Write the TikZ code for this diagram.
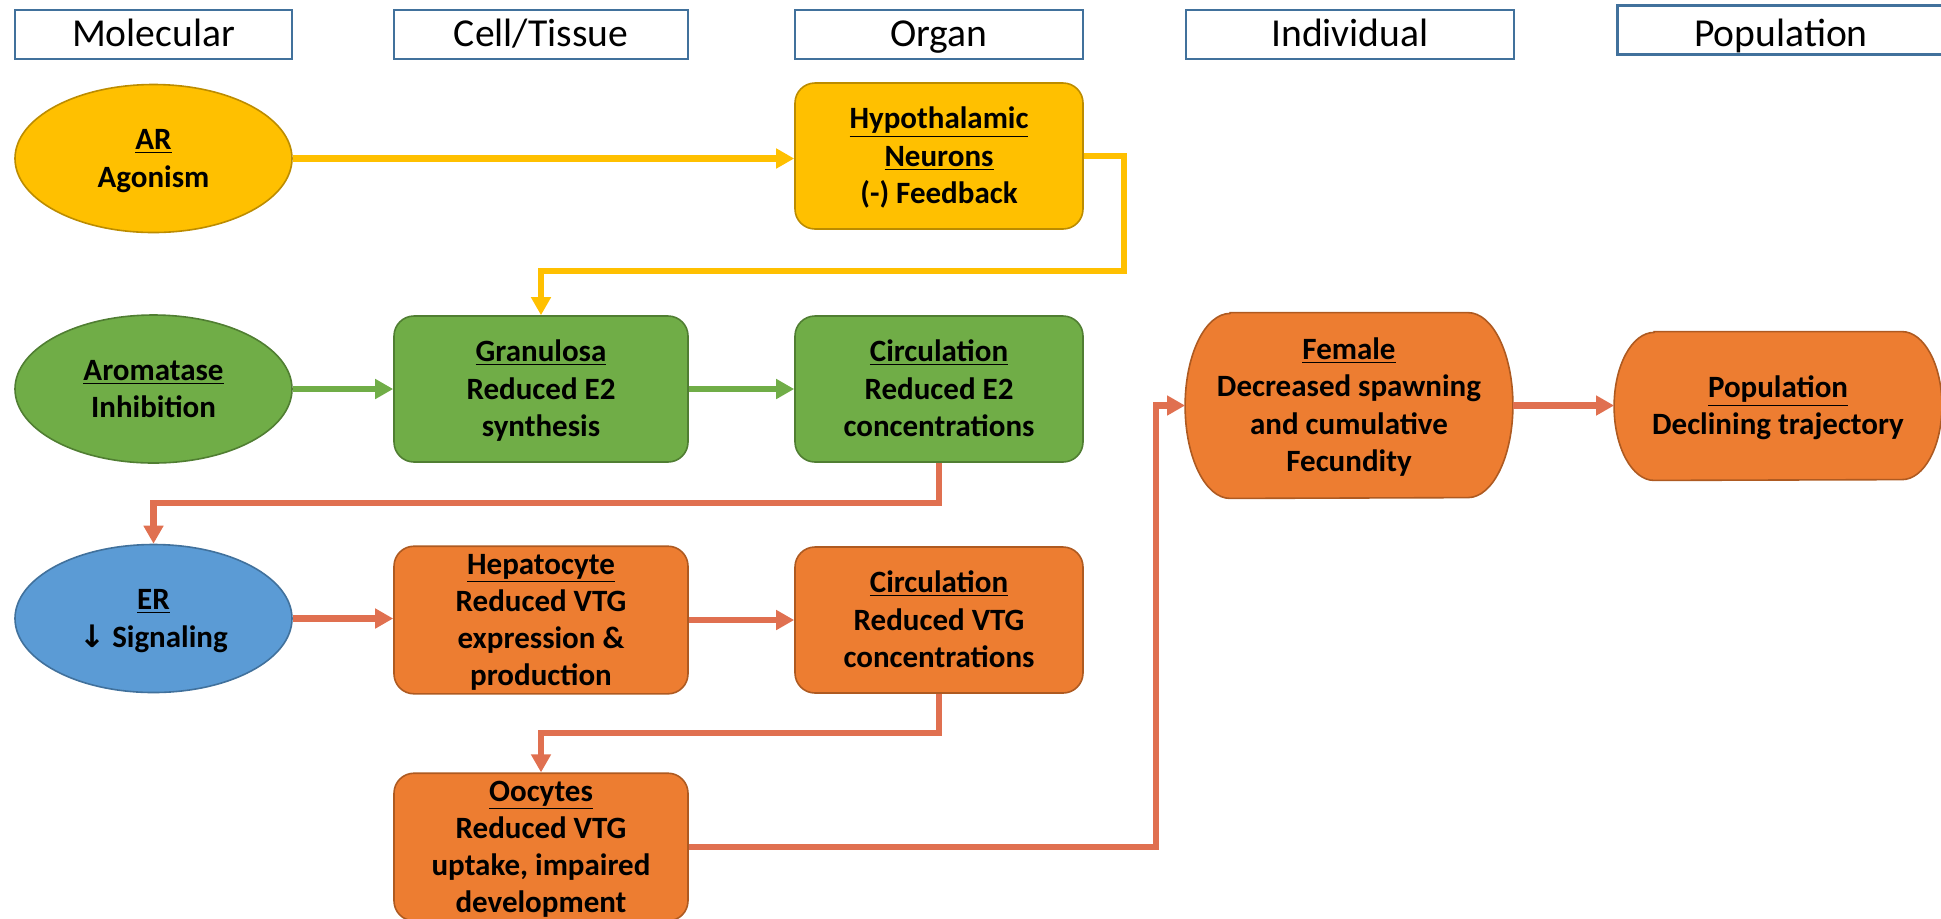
\documentclass[tikz,border=0pt]{standalone}
\usepackage{fontspec}
\setmainfont{Carlito}
\newfontfamily\symfont{DejaVu Sans}
\usetikzlibrary{shapes.geometric,arrows.meta,backgrounds}
\definecolor{ylw}{HTML}{FFC000}
\definecolor{ylwb}{HTML}{BC8C00}
\definecolor{grn}{HTML}{70AD47}
\definecolor{grnb}{HTML}{507E32}
\definecolor{blu}{HTML}{5B9BD5}
\definecolor{blub}{HTML}{41719C}
\definecolor{org}{HTML}{ED7D31}
\definecolor{orgb}{HTML}{AE5A21}
\definecolor{conred}{RGB}{224,112,80}
\definecolor{hdrb}{HTML}{41719C}
\newcommand\myTop{\rule{0pt}{14pt}}
\newcommand\myBot{\rule[-4pt]{0pt}{4pt}}
\begin{document}
\begin{tikzpicture}[x=0.5pt,y=-0.5pt,
  hdr/.style={draw=hdrb, line width=1.2pt, fill=white, minimum height=24.5pt, inner sep=0pt,
    text height=14pt, text depth=2pt, font=\fontsize{19.8}{22}\selectfont},
  txt/.style={align=center, inner sep=0pt, font=\bfseries\fontsize{15.5}{18.6}\selectfont},
  ell/.style={txt, ellipse, minimum width=138.5pt, minimum height=74pt, line width=0.8pt},
  rbox/.style={txt, rectangle, rounded corners=10pt, minimum height=73pt, line width=0.8pt},
  cellw/.style={minimum width=147pt},
  organw/.style={minimum width=144pt},
  yel/.style={fill=ylw, draw=ylwb},
  gre/.style={fill=grn, draw=grnb},
  blue/.style={fill=blu, draw=blub},
  ora/.style={fill=org, draw=orgb},
  conn/.style={line width=3.2pt, -{Triangle[length=9pt,width=9.5pt]}}
]
\useasboundingbox (0,0) rectangle (1941,918);

% headers
\node[hdr, minimum width=138.5pt] (hmol) at (153.5,34.5) {Molecular};
\node[hdr, minimum width=147pt] (hcell) at (541,34.5) {Cell/Tissue};
\node[hdr, minimum width=144pt] (horg) at (939,34.5) {Organ};
\node[hdr, minimum width=164pt] (hind) at (1350,34.5) {Individual};
\node[hdr, minimum width=163.5pt, text height=17pt, text depth=0.5pt] (hpop) at (1781,30) {Population};

% molecular
\node[ell, yel] (ar) at (153.5,158.5) {\myTop\underline{AR}\\Agonism\myBot};
\node[ell, gre] (arom) at (153.5,389) {\myTop\underline{Aromatase}\\Inhibition\myBot};
\node[ell, blue] (er) at (153.5,618.5) {\myTop\underline{ER}\\{\symfont\bfseries ↓} Signaling\myBot};

% cell / organ boxes
\node[rbox, organw, yel] (hyp) at (939,156) {\myTop\underline{Hypothalamic}\\\underline{Neurons}\\(-) Feedback\myBot};
\node[rbox, cellw, gre] (gran) at (541,389) {\myTop\underline{Granulosa}\\Reduced E2\\synthesis\myBot};
\node[rbox, organw, gre] (ce2) at (939,389) {\myTop\underline{Circulation}\\Reduced E2\\concentrations\myBot};
\node[rbox, cellw, ora] (hep) at (541,620) {\myTop\underline{Hepatocyte}\\Reduced VTG\\expression \&\\production\myBot};
\node[rbox, organw, ora] (cv) at (939,620) {\myTop\underline{Circulation}\\Reduced VTG\\concentrations\myBot};
\node[rbox, cellw, ora] (ooc) at (541,847) {\myTop\underline{Oocytes}\\Reduced VTG\\uptake, impaired\\development\myBot};

% individual / population
\node[txt, minimum width=163.5pt, minimum height=92.5pt] (fem) at (1349,405.5)
  {\myTop\underline{Female}\\Decreased spawning\\and cumulative\\Fecundity\myBot};
\node[txt, minimum width=163.5pt, minimum height=74pt] (pop) at (1778,406)
  {\myTop\underline{Population}\\Declining trajectory\myBot};
\begin{scope}[on background layer]
\draw[ora, line width=0.8pt] ([xshift=22.5pt]fem.north west) -- ([xshift=-22.5pt]fem.north east)
  arc[start angle=90,end angle=-90,x radius=22.5pt,y radius=46.25pt]
  -- ([xshift=22.5pt]fem.south west)
  arc[start angle=270,end angle=90,x radius=22.5pt,y radius=46.25pt] -- cycle;
\draw[ora, line width=0.8pt] ([xshift=20pt]pop.north west) -- ([xshift=-20pt]pop.north east)
  arc[start angle=90,end angle=-90,x radius=20pt,y radius=37pt]
  -- ([xshift=20pt]pop.south west)
  arc[start angle=270,end angle=90,x radius=20pt,y radius=37pt] -- cycle;
\end{scope}

% connector bends
\coordinate (fbr) at (1124,271);
\coordinate (c2) at (939,503);
\coordinate (c3) at (939,733);
\coordinate (c4) at (1156,847);

% connectors
\draw[conn, ylw] (ar.east) -- (ar.east -| hyp.west);
\draw[conn, ylw] (hyp.east) -| (fbr) -| (gran.north);
\draw[conn, grn] (arom.east) -- (gran.west);
\draw[conn, grn] (gran.east) -- (ce2.west);
\draw[conn, conred] (ce2.south) -- (c2) -| (er.north);
\draw[conn, conred] (er.east) -- (er.east -| hep.west);
\draw[conn, conred] (hep.east) -- (cv.west);
\draw[conn, conred] (cv.south) -- (c3) -| (ooc.north);
\draw[conn, conred] (ooc.east) -- (c4) |- (fem.west);
\draw[conn, conred] (fem.east) -- (fem.east -| pop.west);
\end{tikzpicture}
\end{document}
